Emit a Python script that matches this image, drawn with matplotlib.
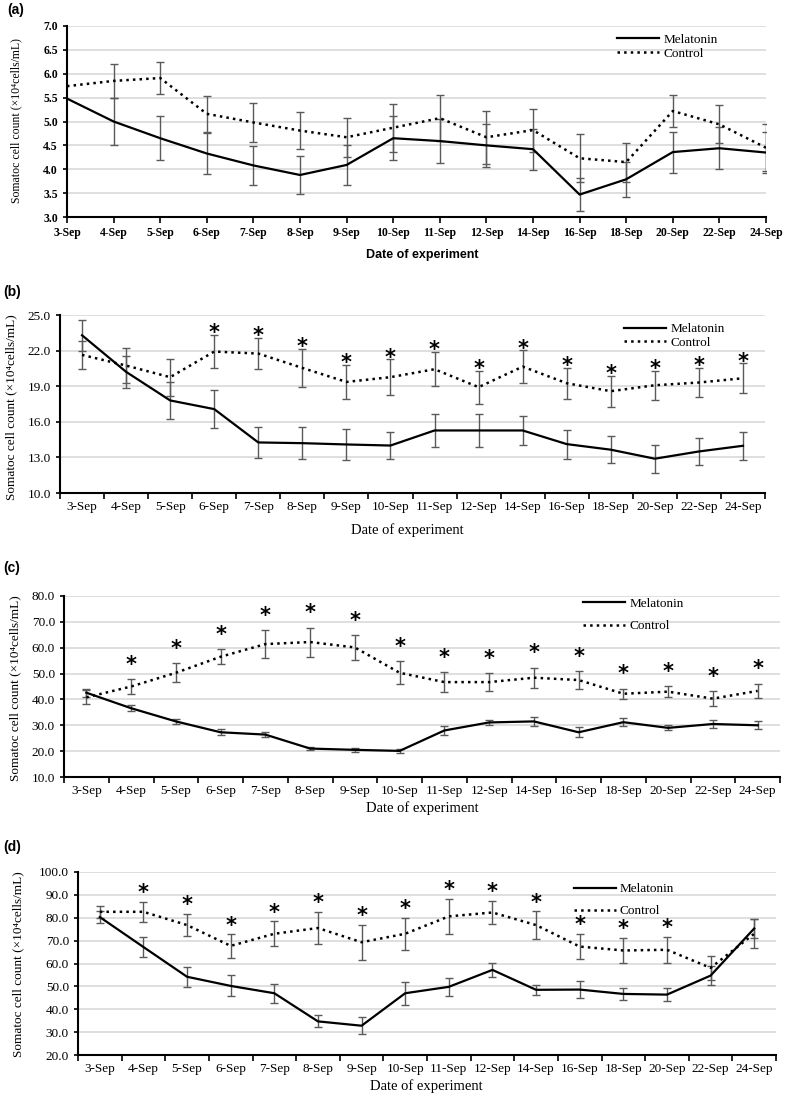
import numpy as np
import matplotlib.pyplot as plt

# 字体: 衬线字体, 缺字时退回 DejaVu
plt.rcParams['font.family'] = ['Liberation Serif', 'DejaVu Serif']

dates = ['3-Sep', '4-Sep', '5-Sep', '6-Sep', '7-Sep', '8-Sep', '9-Sep', '10-Sep',
         '11-Sep', '12-Sep', '14-Sep', '16-Sep', '18-Sep', '20-Sep', '22-Sep', '24-Sep']

# (a)
mel_a = [5.48, 5.00, 4.65, 4.33, 4.08, 3.88, 4.09, 4.65, 4.59, 4.50, 4.42, 3.47, 3.79, 4.36, 4.44, 4.35]
mel_a_err = [np.nan, 0.50, 0.46, 0.43, 0.41, 0.39, 0.41, 0.46, 0.46, 0.45, 0.43, 0.35, 0.37, 0.43, 0.44, 0.43]
ctl_a = [5.74, 5.85, 5.91, 5.16, 4.98, 4.81, 4.67, 4.87, 5.07, 4.67, 4.82, 4.23, 4.15, 5.22, 4.94, 4.45]
ctl_a_err = [np.nan, 0.36, 0.33, 0.37, 0.40, 0.38, 0.41, 0.50, 0.48, 0.56, 0.45, 0.50, 0.41, 0.33, 0.40, 0.49]

# (b)
mel_b = [23.29, 20.21, 17.80, 17.07, 14.26, 14.20, 14.09, 14.00, 15.27, 15.27, 15.27, 14.12, 13.65, 12.89, 13.50, 13.98]
mel_b_err = [1.30, 1.35, 1.57, 1.60, 1.33, 1.32, 1.30, 1.15, 1.38, 1.38, 1.25, 1.23, 1.15, 1.17, 1.17, 1.16]
ctl_b = [21.64, 20.74, 19.76, 21.92, 21.75, 20.54, 19.36, 19.76, 20.43, 18.92, 20.65, 19.25, 18.58, 19.08, 19.31, 19.67]
ctl_b_err = [1.20, 1.45, 1.57, 1.40, 1.33, 1.60, 1.46, 1.50, 1.45, 1.40, 1.36, 1.32, 1.30, 1.24, 1.23, 1.27]
sig_b = [0, 0, 0, 1, 1, 1, 1, 1, 1, 1, 1, 1, 1, 1, 1, 1]

# (c)
mel_c = [42.6, 36.6, 31.5, 27.3, 26.4, 21.0, 20.5, 20.1, 28.0, 31.1, 31.5, 27.3, 31.2, 29.0, 30.5, 30.0]
mel_c_err = [1.5, 1.2, 1.1, 1.1, 1.1, 0.7, 0.8, 0.8, 1.9, 0.8, 1.8, 2.0, 1.6, 1.0, 1.7, 1.5]
ctl_c = [40.8, 45.0, 50.3, 56.5, 61.4, 62.2, 60.1, 50.3, 46.7, 46.7, 48.4, 47.5, 42.2, 43.0, 40.3, 43.3]
ctl_c_err = [2.7, 2.9, 3.7, 2.9, 5.3, 5.6, 4.7, 4.5, 4.0, 3.6, 3.9, 3.6, 2.0, 2.2, 2.9, 2.8]
sig_c = [0, 1, 1, 1, 1, 1, 1, 1, 1, 1, 1, 1, 1, 1, 1, 1]

# (d)
mel_d = [80.3, 67.2, 54.2, 50.2, 47.0, 34.7, 32.8, 47.0, 49.8, 57.2, 48.5, 48.6, 46.7, 46.4, 54.7, 75.3]
mel_d_err = [2.6, 4.2, 4.4, 4.6, 4.2, 2.6, 3.7, 5.1, 4.0, 3.2, 2.1, 3.9, 2.5, 2.8, 4.0, 4.0]
ctl_d = [82.6, 82.6, 76.8, 67.7, 73.0, 75.5, 69.3, 73.0, 80.6, 82.3, 76.8, 67.4, 65.7, 66.0, 58.1, 73.0]
ctl_d_err = [2.5, 4.4, 4.8, 5.1, 5.4, 7.0, 7.6, 7.0, 7.8, 5.2, 6.0, 5.6, 5.6, 5.7, 5.3, 6.4]
sig_d = [0, 1, 1, 1, 1, 1, 1, 1, 1, 1, 1, 1, 1, 1, 0, 0]

W, H = 787, 1096
fig = plt.figure(figsize=(W / 100, H / 100), dpi=100)
ylab = 'Somatoc cell count (\u00d710\u2074cells/mL)'


def rect(l, r, t, b):
    return [l / W, 1 - b / H, (r - l) / W, (b - t) / H]


def panel(box, mel, mel_err, ctl, ctl_err, ylim, ystep, sig=None, star_off=0, on_tick=False,
          tick_font=None, leg_pos=(0.7, 1.0), leg_gap=0.4):
    ax = fig.add_axes(rect(*box))
    x = np.arange(len(dates))
    ax.errorbar(x, ctl, yerr=ctl_err, fmt='none', ecolor='#5a5a5a', elinewidth=1,
                capsize=3, capthick=1, zorder=2)
    ax.errorbar(x, mel, yerr=mel_err, fmt='none', ecolor='#5a5a5a', elinewidth=1,
                capsize=3, capthick=1, zorder=2)
    ax.plot(x, mel, '-', color='black', lw=1.6, label='Melatonin', zorder=3)
    ax.plot(x, ctl, ':', color='black', lw=1.8, label='Control', zorder=3)
    if sig is not None:
        # 显著性星号, 画在对照组误差线上方
        for i in x:
            if sig[i]:
                ax.annotate('*', (i, ctl[i] + ctl_err[i]), xytext=(0, star_off),
                            textcoords='offset points', ha='center', va='bottom',
                            fontsize=15, fontweight='bold', family='DejaVu Sans')
    ax.set_ylim(*ylim)
    ax.set_yticks(np.arange(ylim[0], ylim[1] + ystep / 2, ystep))
    ax.yaxis.set_major_formatter(plt.FormatStrFormatter('%.1f'))
    ax.grid(axis='y', color='#d9d9d9', lw=1.2)
    ax.set_axisbelow(True)
    for s in ['top', 'right']:
        ax.spines[s].set_visible(False)
    for s in ['left', 'bottom']:
        ax.spines[s].set_linewidth(1.5)
    ax.set_xticks(x)
    ax.set_xticklabels(dates)
    if on_tick:
        ax.set_xlim(0, len(dates) - 1)
        ax.tick_params(axis='x', length=4, width=1.2)
    else:
        ax.set_xlim(-0.5, len(dates) - 0.5)
        ax.set_xticks(np.arange(-0.5, len(dates), 1), minor=True)
        ax.tick_params(axis='x', which='major', length=0, pad=6)
        ax.tick_params(axis='x', which='minor', length=4, width=1.2)
    ax.tick_params(axis='y', length=3, width=1.2)
    if tick_font:
        for t in ax.get_xticklabels() + ax.get_yticklabels():
            t.set_fontproperties(tick_font)
    else:
        ax.tick_params(labelsize=9.5)
    ax.legend(loc='upper left', bbox_to_anchor=leg_pos, frameon=False, fontsize=9.5,
              handlelength=3.2, handletextpad=0.3, labelspacing=leg_gap,
              borderaxespad=0, borderpad=0)
    return ax


# (a)
tf = {'family': 'Liberation Serif', 'weight': 'bold', 'size': 8.5}
panel((67, 766, 26, 217), mel_a, mel_a_err, ctl_a, ctl_a_err, (3.0, 7.0), 0.5,
      on_tick=True, tick_font=tf, leg_pos=(0.787, 0.96), leg_gap=0.15)
fig.text(7 / W, 1 - 10 / H, '(a)', family='Liberation Sans', weight='bold', fontsize=10, va='center')
fig.text(16 / W, 1 - 121 / H, ylab, rotation=90, ha='center', va='center', fontsize=8.5)
fig.text(422 / W, 1 - 255 / H, 'Date of experiment', family='Liberation Sans', weight='bold',
         fontsize=9, ha='center', va='center')

# (b)
panel((60, 765, 315, 493), mel_b, mel_b_err, ctl_b, ctl_b_err, (10.0, 25.0), 3.0,
      sig=sig_b, star_off=-6, leg_pos=(0.80, 0.955), leg_gap=0.1)
fig.text(3 / W, 1 - 292 / H, '(b)', family='Liberation Sans', weight='bold', fontsize=10, va='center')
fig.text(11 / W, 1 - 407 / H, ylab, rotation=90, ha='center', va='center', fontsize=9.5)
fig.text(407 / W, 1 - 530 / H, 'Date of experiment', fontsize=10.5, ha='center', va='center')

# (c)
panel((64, 780, 596, 777), mel_c, mel_c_err, ctl_c, ctl_c_err, (10.0, 80.0), 10.0,
      sig=sig_c, star_off=3, leg_pos=(0.725, 0.99), leg_gap=0.75)
fig.text(3 / W, 1 - 568 / H, '(c)', family='Liberation Sans', weight='bold', fontsize=10, va='center')
fig.text(15 / W, 1 - 688 / H, ylab, rotation=90, ha='center', va='center', fontsize=9.5)
fig.text(422 / W, 1 - 808 / H, 'Date of experiment', fontsize=10.5, ha='center', va='center')

# (d)
panel((78, 776, 872, 1055), mel_d, mel_d_err, ctl_d, ctl_d_err, (20.0, 100.0), 10.0,
      sig=sig_d, star_off=-1, leg_pos=(0.71, 0.94), leg_gap=0.75)
fig.text(3 / W, 1 - 847 / H, '(d)', family='Liberation Sans', weight='bold', fontsize=10, va='center')
fig.text(18 / W, 1 - 964 / H, ylab, rotation=90, ha='center', va='center', fontsize=9.5)
fig.text(426 / W, 1 - 1086 / H, 'Date of experiment', fontsize=10.5, ha='center', va='center')

fig.savefig('out.png', dpi=100)
